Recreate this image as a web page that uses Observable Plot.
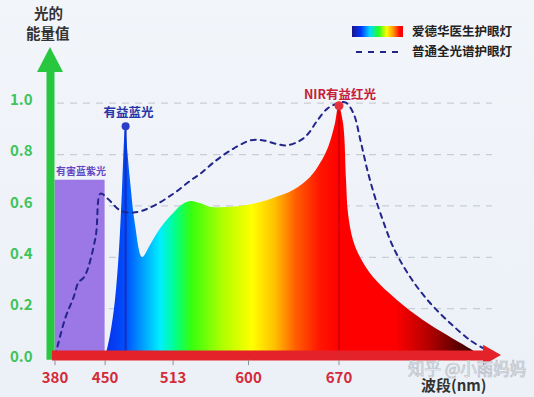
<!DOCTYPE html>
<html>
<head>
<meta charset="utf-8">
<script src="https://cdn.jsdelivr.net/npm/d3@7"></script>
<script src="https://cdn.jsdelivr.net/npm/@observablehq/plot@0.6"></script>
<style>
  html, body { margin: 0; padding: 0; background: #eef3f8; }
  #wrap { position: relative; width: 534px; height: 397px; overflow: hidden;
          background: linear-gradient(#f2f5fa, #ecf1f7);
          font-family: "Noto Sans CJK SC", "Noto Sans", sans-serif; }
  #wrap svg.plot { position: absolute; left: 0; top: 0; }
  .ov { position: absolute; font-weight: 700; white-space: nowrap; line-height: 1; }
</style>
</head>
<body>
<div id="wrap">
  <div class="ov" style="left:34px; top:6px; font-size:14.5px; color:#333;">光的</div>
  <div class="ov" style="left:26px; top:26px; font-size:14.5px; color:#333;">能量值</div>
  <div class="ov" style="left:352px; top:26px; width:51px; height:11px;
       background:linear-gradient(to right,#1a148c,#0038ff 18%,#00d8ff 35%,#22ff22 52%,#ffff00 68%,#ff8a00 82%,#ff0000 94%);"></div>
  <div class="ov" style="left:412px; top:25px; font-size:12.5px; color:#222;">爱德华医生护眼灯</div>
  <svg class="ov" style="left:352px; top:48px;" width="52" height="8">
    <line x1="4" y1="4" x2="50" y2="4" stroke="#22268a" stroke-width="2" stroke-dasharray="6,6"/>
  </svg>
  <div class="ov" style="left:412px; top:45px; font-size:12.5px; color:#222;">普通全光谱护眼灯</div>
  <div class="ov" style="left:408px; top:360px; font-size:16.5px; font-weight:400; color:#f5f7fa; -webkit-text-stroke:0.7px #b7bcc5;">知乎 @小雨妈妈</div>
  <div class="ov" style="left:421px; top:377px; font-size:15px; color:#333;">波段(nm)</div>
</div>
<script>
// ---------- data ----------
const xTicks = [380, 450, 513, 600, 670];
const yTicks = [0, 0.2, 0.4, 0.6, 0.8, 1.0];
const gridTicks = [0.2, 0.4, 0.6, 0.8, 1.0];

// 爱德华医生护眼灯 spectrum
const specWl  = [450, 455.0, 459.6, 463.3, 466.1, 468.0, 469, 469.8, 473.5, 478.2, 484.7, 492.0, 498.5, 505.9, 513.5, 521.5, 533.1, 544.6, 556.2, 579.2, 598.8, 609.3, 619.3, 634.8, 648.0, 655.7, 661.9, 667.3, 670, 673.5, 675.8, 677.3, 681.2, 686.6, 696.7, 715.2, 735.3, 753.9, 769.4, 779.4, 783];
const specVal = [0, 0.095, 0.232, 0.426, 0.660, 0.855, 0.91, 0.874, 0.699, 0.524, 0.399, 0.446, 0.493, 0.535, 0.570, 0.598, 0.617, 0.609, 0.595, 0.595, 0.602, 0.613, 0.629, 0.660, 0.711, 0.765, 0.827, 0.921, 0.99, 0.921, 0.700, 0.571, 0.465, 0.399, 0.321, 0.232, 0.154, 0.095, 0.049, 0.018, 0];

// 普通全光谱护眼灯 (dashed)
const fullWl  = [380, 394.7, 405.8, 412.8, 421.2, 436.6, 443.6, 452.2, 464.3, 476.3, 492.0, 513.5, 533.1, 544.6, 559.6, 579.2, 601.5, 611.6, 622.4, 630.1, 640.1, 646.3, 653.3, 661.0, 668.8, 675.0, 681.2, 686.6, 692.0, 697.4, 702.1, 712.1, 725.3, 740.8, 756.3, 771.7, 781.8];
const fullVal = [0.015, 0.166, 0.243, 0.302, 0.325, 0.477, 0.648, 0.629, 0.582, 0.574, 0.594, 0.648, 0.699, 0.726, 0.769, 0.816, 0.855, 0.855, 0.840, 0.836, 0.855, 0.882, 0.933, 0.979, 0.999, 1.003, 0.960, 0.855, 0.738, 0.641, 0.570, 0.438, 0.321, 0.220, 0.142, 0.076, 0.045];

// harmful band
const harmBand = [380, 450];
const harmTop = 0.70;
const harmLabel = "有害蓝紫光";

// peaks
const peakLabels = ["有益蓝光", "NIR有益红光"];
const peakWl  = [469, 670];
const peakVal = [0.91, 0.99];

// spectrum gradient (wavelength stops)
const gradWl = [450, 469.8, 482.8, 501.3, 515.8, 534.2, 568.8, 603.1, 620.9, 636.4, 655.7, 671.2, 713.7, 740.8, 771.7];
const gradColors = ["#0a2ee8", "#0050ff", "#0092ff", "#00eeff", "#00ff8c", "#34ff10", "#aaff00", "#ffff00", "#ffbf00", "#ff6000", "#ff1500", "#ff0000", "#ff0000", "#b00000", "#3a0000"];

// axis decoration (data units)
const yAxisWl = 373.7;
const xAxisVal = 0.0175;

// ---------- build ----------
const spec = specWl.map((w, i) => ({wl: w, v: specVal[i]}));
const full = fullWl.map((w, i) => ({wl: w, v: fullVal[i]}));
const peaks = peakWl.map((w, i) => ({wl: w, v: peakVal[i], label: peakLabels[i]}));
const FONT = "'Noto Sans CJK SC', 'Noto Sans', sans-serif";

// non-uniform wavelength axis (as in the original drawing)
const wlToPos = d3.scaleLinear()
  .domain([380, 450, 513, 600, 670, 800])
  .range([54.5, 104.6, 172.6, 248, 338.5, 506.6]);

const greenHead = [{x: 355.6, y: 1.12}, {x: yAxisWl, y: 1.217}, {x: 391.9, y: 1.12}];
const redHead = [{x: 781.8, y: 0.057}, {x: 795.7, y: xAxisVal}, {x: 781.8, y: -0.022}];

const chart = Plot.plot({
  width: 534, height: 397,
  marginLeft: 57, marginRight: 42, marginTop: 20, marginBottom: 37,
  style: {background: "transparent", fontFamily: FONT, overflow: "visible"},
  x: {transform: w => wlToPos(w), domain: [0, 534], range: [0, 534], axis: null},
  y: {domain: [0, 1], range: [359.5, 102.7], axis: null},
  marks: [
    Plot.ruleY(gridTicks, {y: d => d, stroke: "#c9cdd5", strokeWidth: 1.2, strokeDasharray: "7,6"}),
    Plot.rect([harmBand], {x1: d => d[0], x2: d => d[1], y1: 0, y2: harmTop, fill: "#9c77e6"}),
    Plot.areaY(spec, {x: "wl", y: "v", fill: "url(#specGrad)", curve: "catmull-rom"}),
    Plot.ruleX([peaks[0]], {x: "wl", y1: 0, y2: "v", stroke: "#1530c0", strokeWidth: 2}),
    Plot.ruleX([peaks[1]], {x: "wl", y1: 0, y2: "v", stroke: "#c8000c", strokeWidth: 1.5}),
    Plot.line(full, {x: "wl", y: "v", stroke: "#22268a", strokeWidth: 2, strokeDasharray: "5,5", curve: "catmull-rom"}),
    Plot.dot([peaks[0]], {x: "wl", y: "v", r: 4, fill: "#2b3cc8"}),
    Plot.dot([peaks[1]], {x: "wl", y: "v", r: 4.5, fill: "#e8303a"}),
    Plot.text([peaks[0]], {x: "wl", y: "v", text: "label", dx: 3, dy: -13, fill: "#2636a8", fontSize: 12.5, fontWeight: "bold"}),
    Plot.text([peaks[1]], {x: "wl", y: "v", text: "label", dx: 1, dy: -11, fill: "#c52037", fontSize: 12.5, fontWeight: "bold"}),
    Plot.text([harmLabel], {x: harmBand[0], y: harmTop, text: d => d, textAnchor: "start", dx: 1, dy: -8, fill: "#6346c4", fontSize: 10, fontWeight: "bold"}),
    // y axis arrow
    Plot.ruleX([yAxisWl], {x: d => d, y1: -0.001, y2: 1.125, stroke: "#27c840", strokeWidth: 8}),
    Plot.areaY(greenHead, {x: "x", y1: 1.12, y2: "y", fill: "#27c840", curve: "linear"}),
    // x axis arrow
    Plot.ruleY([xAxisVal], {y: d => d, x1: 376.5, x2: 782.5, stroke: "#e3222a", strokeWidth: 10}),
    Plot.areaX(redHead, {y: "y", x1: 781.8, x2: "x", fill: "#e3222a", curve: "linear"}),
    // ticks & labels
    Plot.ruleX(xTicks, {x: d => d, y1: -0.001, y2: -0.022, stroke: "#8a8f98", strokeWidth: 1}),
    Plot.text(xTicks, {x: d => d, frameAnchor: "bottom", dy: 22, text: d => String(d), fill: "#d42a3a", fontSize: 15, fontWeight: "bold"}),
    Plot.text(yTicks, {y: d => d, frameAnchor: "left", dx: -25, dy: -3, textAnchor: "end", text: d => d.toFixed(1), fill: "#3ec45a", fontSize: 15, fontWeight: "bold"})
  ]
});

// gradient defs positioned with the same wavelength mapping the x scale uses
const xs = chart.scale("x");
const toPx = w => d3.scaleLinear().domain(xs.domain).range(xs.range)(wlToPos(w));
const svg = d3.select(chart);
const p0 = toPx(gradWl[0]), p1 = toPx(gradWl[gradWl.length - 1]);
const grad = svg.insert("defs", ":first-child").append("linearGradient")
  .attr("id", "specGrad").attr("gradientUnits", "userSpaceOnUse")
  .attr("x1", p0).attr("x2", p1).attr("y1", 0).attr("y2", 0);
gradWl.forEach((w, i) => {
  grad.append("stop").attr("offset", (toPx(w) - p0) / (p1 - p0)).attr("stop-color", gradColors[i]);
});
chart.classList.add("plot");
const wrap = document.getElementById("wrap");
wrap.insertBefore(chart, wrap.firstChild);
</script>
</body>
</html>
